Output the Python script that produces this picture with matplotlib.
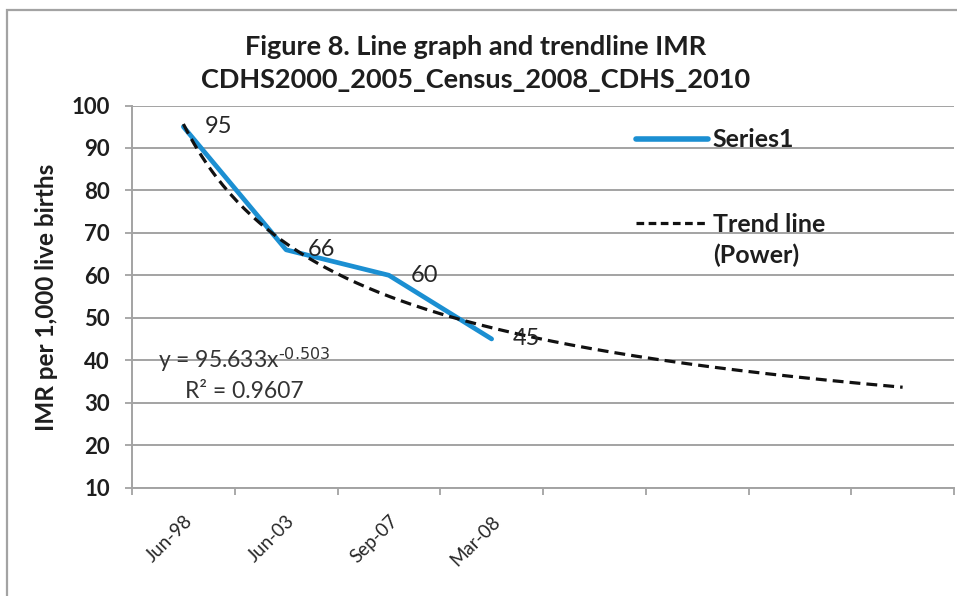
import numpy as np
import matplotlib.pyplot as plt
import matplotlib.transforms as mtransforms
from matplotlib.lines import Line2D
from matplotlib.patches import Rectangle

plt.rcParams['font.family'] = ['Lato', 'DejaVu Sans']
plt.rcParams['mathtext.default'] = 'regular'

# data
dates = ["Jun-98", "Jun-03", "Sep-07", "Mar-08"]
imr = [95, 66, 60, 45]
n_slots = 8          # the category axis runs on past the data, as the trendline does
y_ticks = [10, 20, 30, 40, 50, 60, 70, 80, 90, 100]

# power trendline fitted like Excel does (log-log least squares)
x = np.arange(1, len(imr) + 1)
b, lna = np.polyfit(np.log(x), np.log(imr), 1)
a = np.exp(lna)
pred = lna + b * np.log(x)
ly = np.log(imr)
r2 = 1 - np.sum((ly - pred) ** 2) / np.sum((ly - ly.mean()) ** 2)
xt = np.linspace(1, n_slots, 200)
yt = a * xt ** b

W, H = 957, 596
fig = plt.figure(figsize=(W / 100, H / 100), dpi=100)
ax = fig.add_axes([132 / W, 1 - 487.5 / H, 822 / W, 382 / H])

grey = '#a3a3a3'
blue = '#1b8fd2'
txt = '#1e1e1e'

ax.plot(x, imr, color=blue, lw=3.4, solid_capstyle='round', solid_joinstyle='round', zorder=3)
ax.plot(xt, yt, color='#111111', lw=2.3, linestyle=(0, (3.4, 1.9)), zorder=4)

for xi, v in zip(x, imr):
    ax.annotate(str(v), (xi, v), xytext=(15.5, 0), textcoords='offset points',
                ha='left', va='center', fontsize=17, color='#262626', zorder=5)

ax.set_xlim(0.5, n_slots + 0.5)
ax.set_ylim(10, 100)
ax.set_yticks(y_ticks)
ax.set_yticklabels([str(t) for t in y_ticks], fontweight='bold', fontsize=16, color=txt)
ax.set_xticks(x)
ax.set_xticklabels(dates, rotation=45, ha='right', rotation_mode='anchor', fontsize=13.5, color='#262626')
shift = mtransforms.ScaledTranslation(-4 / 100, 0, fig.dpi_scale_trans)
for lab in ax.get_xticklabels():
    lab.set_transform(lab.get_transform() + shift)
ax.set_xticks(np.arange(0.5, n_slots + 1), minor=True)
ax.tick_params(axis='x', which='major', length=0, pad=18)
ax.tick_params(axis='x', which='minor', length=5, width=1.3, color=grey, direction='out')
ax.tick_params(axis='y', length=5, width=1.3, color=grey, pad=11)
ax.yaxis.grid(True, color=grey, lw=1.4)
ax.set_axisbelow(True)
for s in ['top', 'right']:
    ax.spines[s].set_visible(False)
for s in ['left', 'bottom']:
    ax.spines[s].set_color(grey)
    ax.spines[s].set_linewidth(1.4)

# equation and R2 of the trendline
ax.text(0.1365, 0.334, f"y = {a:.3f}x$^{{\\text{{{b:.3f}}}}}$", transform=ax.transAxes,
        ha='center', va='center', fontsize=16.5, color='#333333')
ax.text(0.1365, 0.25, f"R² = {r2:.4f}", transform=ax.transAxes,
        ha='center', va='center', fontsize=16.5, color='#333333')

# legend
h1 = Line2D([], [], color=blue, lw=4, solid_capstyle='round')
h2 = Line2D([], [], color='#111111', lw=2.3, linestyle=(0, (2.4, 1.4)))
h3 = Line2D([], [], color='none')
leg1 = ax.legend([h1], ['Series1'], loc='center left', bbox_to_anchor=(0.613, 0.9097),
                 frameon=False, borderpad=0, borderaxespad=0, handlelength=2.9,
                 handletextpad=0.18, prop={'weight': 'bold', 'size': 18})
for t in leg1.get_texts():
    t.set_color(txt)
ax.add_artist(leg1)
leg2 = ax.legend([h2, h3], ['Trend line', '(Power)'], loc='center left', bbox_to_anchor=(0.613, 0.649),
                 frameon=False, borderpad=0, borderaxespad=0, handlelength=2.9,
                 handletextpad=0.18, labelspacing=0.3, prop={'weight': 'bold', 'size': 18})
for t in leg2.get_texts():
    t.set_color(txt)

fig.text(476 / W, 1 - 47 / H, "Figure 8. Line graph and trendline IMR", ha='center', va='center',
         fontsize=19.5, fontweight='bold', color=txt)
fig.text(476 / W, 1 - 80 / H, "CDHS2000_2005_Census_2008_CDHS_2010", ha='center', va='center',
         fontsize=19.5, fontweight='bold', color=txt)
fig.text(47 / W, 1 - 297 / H, "IMR per 1,000 live births", rotation=90, ha='center', va='center',
         fontsize=17.5, fontweight='bold', color=txt)

fig.patches.append(Rectangle((7 / W, -0.05), 1.2, 1 - 10 / H + 0.05, transform=fig.transFigure,
                             fill=False, edgecolor=grey, lw=1.6))

fig.savefig('out.png', dpi=100)
